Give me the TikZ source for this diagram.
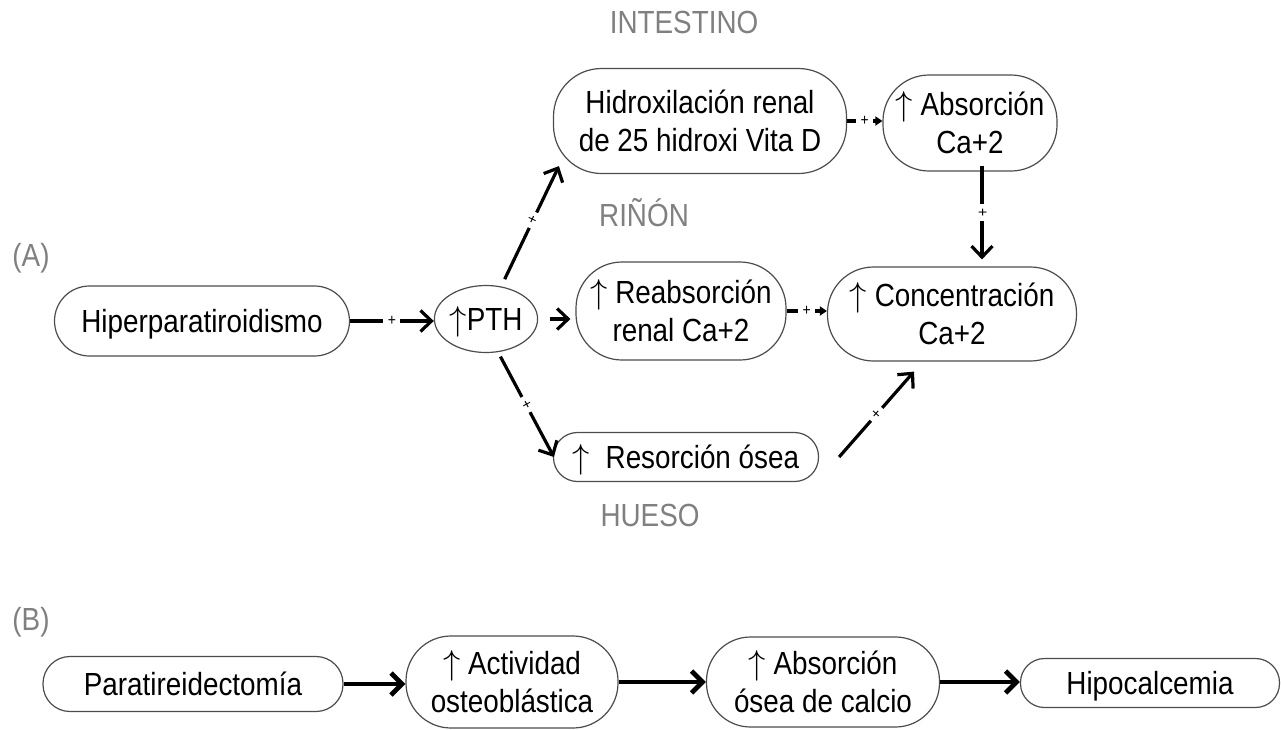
\documentclass[tikz,border=0pt]{standalone}
\usepackage{fontspec}
\setmainfont{Liberation Sans}[FakeStretch=0.87]
\usetikzlibrary{arrows.meta,shapes.geometric}
\newcommand\upar{$\uparrow$}
\begin{document}
\begin{tikzpicture}[x=0.5pt,y=-0.5pt,
  box/.style={draw=black!70, line width=0.6pt, fill=white, align=center, inner sep=0pt,
    font=\fontsize{16}{19}\selectfont},
  oneline/.style={text height=11.5pt, text depth=0pt},
  lbl/.style={text=black!50, font=\fontsize{16}{18}\selectfont, inner sep=0pt},
  conn/.style={line width=1.6pt, -{Straight Barb[length=5.5pt,width=10.5pt]}},
  bigconn/.style={line width=2.4pt, -{Straight Barb[length=5.5pt,width=11pt]}},
  shortconn/.style={line width=1.6pt, -{Triangle[length=3.5pt,width=4.5pt]}},
  plus/.style={fill=white, inner sep=2.2pt, font=\fontsize{8}{8}\selectfont, sloped}]
\useasboundingbox (0,0) rectangle (1281,729);

% labels
\node[lbl] (lA) at (31,258) {(A)};
\node[lbl] (lB) at (31,622) {(B)};
\node[lbl] (lint) at (684,22) {INTESTINO};
\node[lbl] (lrin) at (644,213) {RIÑÓN};
\node[lbl] (lhue) at (650,515) {HUESO};

% part A nodes
\node[box, oneline, minimum width=147.5pt, minimum height=35pt, rounded corners=17.5pt] (hyp) at (202,321) {Hiperparatiroidismo};
\node[box, oneline, ellipse, minimum width=36.5pt, minimum height=33.5pt] (pth) at (486,319) {\upar PTH};
\node[box, minimum width=146.5pt, minimum height=52.5pt, rounded corners=24pt] (hid) at (700,121) {Hidroxilación renal\\de 25 hidroxi Vita D};
\node[box, minimum width=87pt, minimum height=48pt, rounded corners=23pt] (abs) at (970,123) {\upar\ Absorción\\Ca+2};
\node[box, minimum width=105pt, minimum height=49pt, rounded corners=23pt] (reab) at (681,311) {\upar\ Reabsorción\\renal Ca+2};
\node[box, minimum width=124.5pt, minimum height=47pt, rounded corners=23pt] (conc) at (952,314) {\upar\ Concentración\\Ca+2};
\node[box, oneline, minimum width=132.5pt, minimum height=24.5pt, rounded corners=12pt] (res) at (686,457) {\upar\ \ Resorción ósea};

% part B nodes
\node[box, oneline, minimum width=150pt, minimum height=27.5pt, rounded corners=13.5pt] (para) at (193,684) {Paratireidectomía};
\node[box, minimum width=106pt, minimum height=46pt, rounded corners=22.5pt] (act) at (512,682) {\upar\ Actividad\\osteoblástica};
\node[box, minimum width=116.5pt, minimum height=45pt, rounded corners=22pt] (abso) at (823,682) {\upar\ Absorción\\ósea de calcio};
\node[box, oneline, minimum width=129.5pt, minimum height=24.5pt, rounded corners=12pt] (hipo) at (1150,683) {Hipocalcemia};

% connectors A
\draw[conn] (hyp.east) -- node[plus]{+} (hyp.east -| pth.west);
\draw[conn, shorten <=6pt, shorten >=2.5pt] (pth.east) -- (pth.east -| reab.west);
\draw[conn, shorten <=4pt] (pth.65) -- node[plus, pos=0.55]{+} ([shift={(6,-8)}]hid.south west);
\draw[conn, shorten <=2.5pt] (pth.-70) -- node[plus]{+} ([shift={(1,0)}]res.west);
\draw[shortconn] (hid.east) -- node[plus]{+} (hid.east -| abs.west);
\draw[shortconn] (reab.east) -- node[plus]{+} (reab.east -| conc.west);
\draw[conn] ([shift={(12,-6)}]abs.south) -- node[plus]{+} ([shift={(30,-7)}]conc.north);
\draw[conn] ([shift={(20,0)}]res.east) -- node[plus]{+} ([shift={(-38,10)}]conc.south);

% connectors B
\draw[bigconn] (para.east) -- (para.east -| act.west);
\draw[bigconn] (act.east) -- (act.east -| abso.west);
\draw[bigconn] (abso.east) -- (abso.east -| hipo.west);
\end{tikzpicture}
\end{document}
